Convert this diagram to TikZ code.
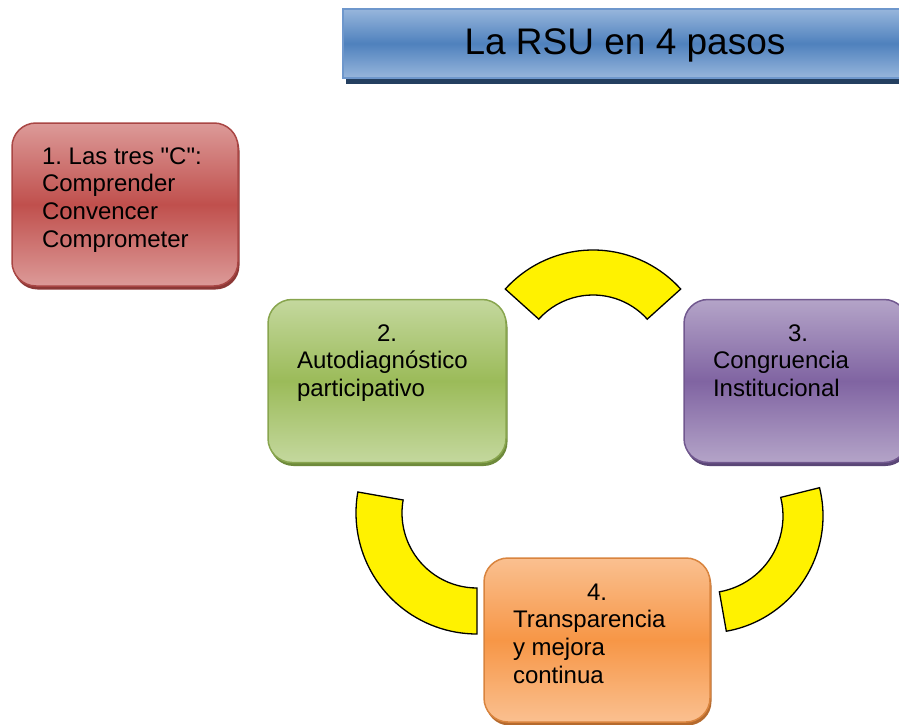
\documentclass[tikz,border=0pt]{standalone}
\usepackage{fontspec}
\setmainfont{Liberation Sans}[Ligatures=TeXOff]
\usetikzlibrary{shadows,calc}
\frenchspacing
\definecolor{bluelight}{HTML}{97B6DC}
\definecolor{bluemid}{HTML}{4F81BD}
\definecolor{blueline}{HTML}{6E97CC}
\definecolor{blueshadow}{HTML}{243F60}
\definecolor{redlight}{HTML}{DC9A98}
\definecolor{redmid}{HTML}{C0504D}
\definecolor{redshadow}{HTML}{8C3836}
\definecolor{greenlight}{HTML}{C4D89E}
\definecolor{greenmid}{HTML}{9BBB59}
\definecolor{greenshadow}{HTML}{6E8A3B}
\definecolor{purplelight}{HTML}{B4A4C8}
\definecolor{purplemid}{HTML}{8064A2}
\definecolor{purpleshadow}{HTML}{5A4676}
\definecolor{orangelight}{HTML}{FAC090}
\definecolor{orangemid}{HTML}{F79646}
\definecolor{orangeshadow}{HTML}{B56A2E}
\begin{document}
\begin{tikzpicture}[
        x=1pt, y=-1pt,
        every node/.style={inner sep=0pt, outer sep=0pt},
        box/.style={rounded corners=24pt, line width=1.5pt, minimum width=226pt, minimum height=163pt},
        colorbox/.style={box, draw=#1mid!88!black, top color=#1light, bottom color=#1light, middle color=#1mid,
            drop shadow={shadow xshift=1.5pt, shadow yshift=-3.5pt, fill=#1shadow, opacity=1}},
        boxtext/.style={align=left, anchor=base west, font=\fontsize{24}{27.8}\selectfont},
        titlebox/.style={draw=blueline, line width=1.5pt, top color=bluelight, bottom color=bluelight, middle color=bluemid,
            minimum width=564pt, minimum height=69pt, text height=27pt, text depth=4pt,
            font=\fontsize{37}{40}\selectfont,
            drop shadow={shadow xshift=3pt, shadow yshift=-6pt, fill=blueshadow, opacity=1}},
        ring/.style={draw=black, line width=1.3pt, fill=yellow, line join=miter},
    ]
    \useasboundingbox (0,0) rectangle (899,725);
    \clip (0,0) rectangle (899,725);
    \node[titlebox] (title) at (625,43.5) {La RSU en 4 pasos};
    \node[colorbox=red] (paso1) at (125,204.5) {};
    \node[colorbox=green, minimum width=238pt] (paso2) at (387,381) {};
    \node[colorbox=purple, minimum width=224pt] (paso3) at (796,381) {};
    \node[colorbox=orange, minimum height=164pt] (paso4) at (597,640) {};
    \node[boxtext] (texto1) at (42,247.4) {1. Las tres "C":\\Comprender\\Convencer\\Comprometer};
    \node[boxtext] (texto2) at (297,396.6) {\hspace*{80pt}2.\\Autodiagnóstico\\participativo};
    \node[boxtext] (texto3) at (713,396.6) {\hspace*{75pt}3.\\Congruencia\\Institucional};
    \node[boxtext] (texto4) at (513,683.4) {\hspace*{74pt}4.\\Transparencia\\y mejora\\continua};
    \coordinate (arriba) at (593,368);
    \coordinate (izquierda) at (477,513);
    \coordinate (derecha) at (706,516);
    \draw[ring] (arriba) ++(-138:118) arc[start angle=-138, end angle=-42, radius=118]
        -- ($(arriba)+(-42:73)$) arc[start angle=-42, end angle=-138, radius=73] -- cycle;
    \draw[ring] (izquierda) ++(190:121) arc[start angle=190, end angle=90, radius=121]
        -- ($(izquierda)+(90:75)$) arc[start angle=90, end angle=190, radius=75] -- cycle;
    \draw[ring] (derecha) ++(-14:117) arc[start angle=-14, end angle=80, radius=117]
        -- ($(derecha)+(80:77)$) arc[start angle=80, end angle=-14, radius=77] -- cycle;
\end{tikzpicture}
\end{document}
